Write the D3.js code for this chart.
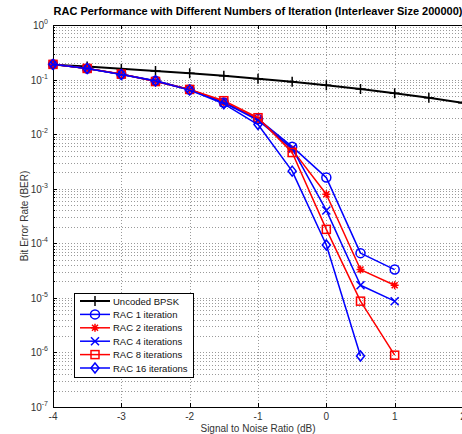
<!DOCTYPE html>
<html>
<head>
<meta charset="utf-8">
<script src="https://cdn.jsdelivr.net/npm/d3@7"></script>
<style>
  html, body { margin: 0; padding: 0; background: #fff; }
  svg { display: block; font-family: "Liberation Sans", Arial, sans-serif; }
</style>
</head>
<body>
<svg id="chart" width="462" height="434"></svg>
<script>
// SNR points (dB)
const snrBpsk = [-4, -3.5, -3, -2.5, -2, -1.5, -1, -0.5, 0, 0.5, 1, 1.5, 2];
const snrRac = [-4, -3.5, -3, -2.5, -2, -1.5, -1, -0.5, 0, 0.5, 1];

// Bit error rates
const berBpsk = [0.186, 0.173, 0.158, 0.143, 0.131, 0.117, 0.104, 0.0912, 0.0786, 0.0671, 0.0563, 0.0464, 0.0375];
const berRac1 = [0.19, 0.16, 0.125, 0.095, 0.066, 0.038, 0.019, 0.0059, 0.0016, 6.6e-5, 3.3e-5];
const berRac2 = [0.19, 0.16, 0.125, 0.093, 0.066, 0.039, 0.019, 0.0052, 0.00079, 3.3e-5, 1.7e-5];
const berRac4 = [0.19, 0.16, 0.125, 0.094, 0.065, 0.038, 0.018, 0.0055, 0.0004, 1.7e-5, 8.7e-6];
const berRac8 = [0.19, 0.16, 0.126, 0.092, 0.066, 0.041, 0.02, 0.0046, 0.00018, 8.7e-6, 8.9e-7];
const berRac16 = [0.19, 0.16, 0.124, 0.094, 0.064, 0.036, 0.015, 0.0021, 9.3e-5, 8.6e-7];

const seriesNames = ["Uncoded BPSK", "RAC 1 iteration", "RAC 2 iterations", "RAC 4 iterations", "RAC 8 iterations", "RAC 16 iterations"];

// Axis ticks
const xTicks = [-4, -3, -2, -1, 0, 1, 2];
const yExponents = [0, -1, -2, -3, -4, -5, -6, -7];

const titleText = "RAC Performance with Different Numbers of Iteration (Interleaver Size 200000)";
const xLabel = "Signal to Noise Ratio (dB)";
const yLabel = "Bit Error Rate (BER)";

const series = [
  { name: seriesNames[0], x: snrBpsk, y: berBpsk, color: "#000000", marker: "plus", width: 2 },
  { name: seriesNames[1], x: snrRac, y: berRac1, color: "#0000ff", marker: "circle", width: 1.5 },
  { name: seriesNames[2], x: snrRac, y: berRac2, color: "#ff0000", marker: "star", width: 1.5 },
  { name: seriesNames[3], x: snrRac, y: berRac4, color: "#0000ff", marker: "cross", width: 1.5 },
  { name: seriesNames[4], x: snrRac, y: berRac8, color: "#ff0000", marker: "square", width: 1.5 },
  { name: seriesNames[5], x: snrRac.slice(0, berRac16.length), y: berRac16, color: "#0000ff", marker: "diamond", width: 1.5 }
];

const svg = d3.select("#chart");
const plot = { left: 53, right: 463, top: 25, bottom: 407 };

const x = d3.scaleLinear().domain([-4, 2]).range([plot.left, plot.right]);
const y = d3.scaleLog().domain([1e-7, 1]).range([plot.bottom, plot.top]);

// Grid: dotted lines at every x tick and every log minor value
const grid = svg.append("g").attr("stroke", "#9a9a9a").attr("stroke-width", 1)
  .attr("stroke-dasharray", "1,2").attr("shape-rendering", "crispEdges");
xTicks.slice(1).forEach(v => {
  grid.append("line").attr("x1", Math.round(x(v)) + 0.5).attr("x2", Math.round(x(v)) + 0.5)
    .attr("y1", plot.top).attr("y2", plot.bottom);
});
const minorVals = [];
for (let e = -7; e < 0; e++) {
  for (let m = 1; m <= 9; m++) {
    const v = m * Math.pow(10, e);
    if (e === -7 && m === 1) continue;
    minorVals.push(v);
  }
}
minorVals.forEach(v => {
  grid.append("line").attr("x1", plot.left).attr("x2", plot.right)
    .attr("y1", Math.round(y(v)) + 0.5).attr("y2", Math.round(y(v)) + 0.5);
});

// Axes box
const axes = svg.append("g").attr("stroke", "#000").attr("stroke-width", 1).attr("shape-rendering", "crispEdges");
axes.append("line").attr("x1", plot.left + 0.5).attr("x2", plot.left + 0.5).attr("y1", plot.top).attr("y2", plot.bottom + 0.5);
axes.append("line").attr("x1", plot.left).attr("x2", plot.right).attr("y1", plot.bottom + 0.5).attr("y2", plot.bottom + 0.5);
axes.append("line").attr("x1", plot.left).attr("x2", plot.right).attr("y1", plot.top + 0.5).attr("y2", plot.top + 0.5);

// Inward tick marks
xTicks.forEach(v => {
  const px = Math.round(x(v)) + 0.5;
  axes.append("line").attr("x1", px).attr("x2", px).attr("y1", plot.bottom).attr("y2", plot.bottom - 4);
  axes.append("line").attr("x1", px).attr("x2", px).attr("y1", plot.top).attr("y2", plot.top + 4);
});
yExponents.forEach(e => {
  const py = Math.round(y(Math.pow(10, e))) + 0.5;
  axes.append("line").attr("x1", plot.left).attr("x2", plot.left + 4).attr("y1", py).attr("y2", py);
});
minorVals.forEach(v => {
  const py = Math.round(y(v)) + 0.5;
  axes.append("line").attr("x1", plot.left).attr("x2", plot.left + 2).attr("y1", py).attr("y2", py);
});

// Tick labels
const tickColor = "#333";
xTicks.forEach(v => {
  svg.append("text").attr("x", x(v)).attr("y", plot.bottom + 12.5)
    .attr("text-anchor", "middle").attr("font-size", 10).attr("fill", tickColor)
    .text(v);
});
yExponents.forEach(e => {
  const py = y(Math.pow(10, e));
  const t = svg.append("text").attr("x", plot.left - 5).attr("y", py + 4)
    .attr("text-anchor", "end").attr("font-size", 10).attr("fill", tickColor);
  t.append("tspan").text("10");
  t.append("tspan").attr("dy", -5).attr("font-size", 7).text(e);
});

// Title and axis labels
svg.append("text").attr("x", 258).attr("y", 15).attr("text-anchor", "middle")
  .attr("font-size", 11).attr("font-weight", "bold").attr("fill", "#000").text(titleText);
svg.append("text").attr("x", 258).attr("y", 432).attr("text-anchor", "middle")
  .attr("font-size", 10).attr("fill", tickColor).text(xLabel);
svg.append("text").attr("transform", `translate(28,${(plot.top + plot.bottom) / 2}) rotate(-90)`)
  .attr("text-anchor", "middle").attr("font-size", 10).attr("fill", tickColor).text(yLabel);

// Marker drawing
function drawMarker(g, type, cx, cy, color) {
  const s = 4;
  if (type === "plus") {
    g.append("path").attr("d", `M${cx - s - 1},${cy}H${cx + s + 1}M${cx},${cy - s - 1}V${cy + s + 1}`)
      .attr("stroke", color).attr("stroke-width", 1.5).attr("fill", "none");
  } else if (type === "circle") {
    g.append("circle").attr("cx", cx).attr("cy", cy).attr("r", s + 0.5)
      .attr("stroke", color).attr("stroke-width", 1.5).attr("fill", "none");
  } else if (type === "star") {
    const d = s * 0.75;
    g.append("path").attr("d", `M${cx - s},${cy}H${cx + s}M${cx},${cy - s}V${cy + s}M${cx - d},${cy - d}L${cx + d},${cy + d}M${cx - d},${cy + d}L${cx + d},${cy - d}`)
      .attr("stroke", color).attr("stroke-width", 1.5).attr("fill", "none");
  } else if (type === "cross") {
    g.append("path").attr("d", `M${cx - s},${cy - s}L${cx + s},${cy + s}M${cx - s},${cy + s}L${cx + s},${cy - s}`)
      .attr("stroke", color).attr("stroke-width", 1.5).attr("fill", "none");
  } else if (type === "square") {
    g.append("rect").attr("x", cx - s).attr("y", cy - s).attr("width", 2 * s).attr("height", 2 * s)
      .attr("stroke", color).attr("stroke-width", 1.5).attr("fill", "none");
  } else if (type === "diamond") {
    g.append("path").attr("d", `M${cx},${cy - s - 1}L${cx + s},${cy}L${cx},${cy + s + 1}L${cx - s},${cy}Z`)
      .attr("stroke", color).attr("stroke-width", 1.5).attr("fill", "none");
  }
}

// Series lines and markers
const clip = svg.append("clipPath").attr("id", "plotclip").append("rect")
  .attr("x", plot.left - 6).attr("y", plot.top - 6).attr("width", plot.right - plot.left + 12).attr("height", plot.bottom - plot.top + 12);
const line = d3.line().x(d => x(d[0])).y(d => y(d[1]));
const dataG = svg.append("g").attr("clip-path", "url(#plotclip)");
series.forEach(s => {
  const pts = s.x.map((v, i) => [v, s.y[i]]);
  dataG.append("path").datum(pts).attr("d", line).attr("fill", "none")
    .attr("stroke", s.color).attr("stroke-width", s.width).attr("stroke-linejoin", "round");
  const mg = dataG.append("g");
  pts.forEach(p => drawMarker(mg, s.marker, x(p[0]), y(p[1]), s.color));
});

// Legend
const leg = { x: 74, y: 293, w: 119, h: 84 };
const lg = svg.append("g");
lg.append("rect").attr("x", leg.x + 0.5).attr("y", leg.y + 0.5).attr("width", leg.w).attr("height", leg.h)
  .attr("fill", "#fff").attr("stroke", "#000").attr("stroke-width", 1).attr("shape-rendering", "crispEdges");
series.forEach((s, i) => {
  const ry = leg.y + 8 + i * 13.4;
  lg.append("line").attr("x1", leg.x + 6).attr("x2", leg.x + 36).attr("y1", ry).attr("y2", ry)
    .attr("stroke", s.color).attr("stroke-width", s.width);
  drawMarker(lg, s.marker, leg.x + 21, ry, s.color);
  lg.append("text").attr("x", leg.x + 39).attr("y", ry + 3.5).attr("font-size", 9.5).attr("fill", "#111")
    .text(s.name);
});
</script>
</body>
</html>
